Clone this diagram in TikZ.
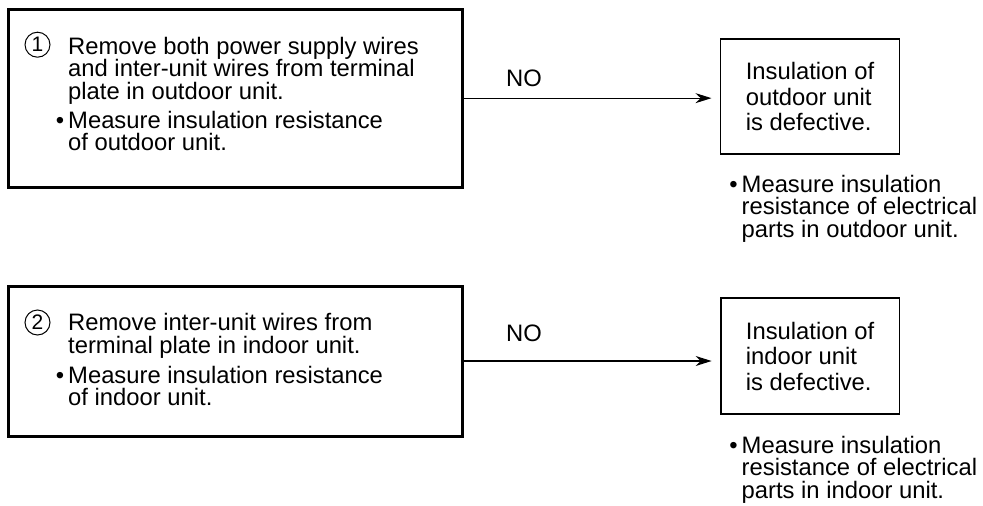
\documentclass[tikz,border=0pt]{standalone}
\usepackage{fontspec}
\setmainfont{Liberation Sans}
\usetikzlibrary{arrows.meta}
\newcommand\itemdot{\llap{\textbullet\hspace{4pt}}}
\begin{document}
\begin{tikzpicture}[x=1pt, y=-1pt,
  stepbox/.style={draw, line width=3pt, minimum width=453.3pt},
  res/.style={draw, line width=1.4pt, align=left, minimum width=178.6pt, minimum height=115pt, font={\fontsize{23.8}{25.5}\selectfont}},
  txt/.style={align=left, inner sep=0pt, anchor=north west, font={\fontsize{23.8}{22.4}\selectfont}},
  num/.style={circle, draw, line width=1pt, minimum size=25pt, inner sep=0pt, font={\fontsize{21}{21}\selectfont}},
  arr/.style={-{Stealth[length=16pt, width=10pt]}, line width=1.2pt, shorten >=8.5pt},
  lab/.style={inner sep=0pt, font={\fontsize{23.8}{23.8}\selectfont}}]
\useasboundingbox (0,0) rectangle (983,506);
\node[stepbox, minimum height=177.7pt] (step1) at (235.35,98.15) {};
\node[txt] (txt1) at (68,37.1) {Remove both power supply wires\\and inter-unit wires from terminal\\plate in outdoor unit.\\[6.8pt]\itemdot Measure insulation resistance\\of outdoor unit.};
\node[num] (num1) at (37.5,44.7) {1};
\node[res] (res1) at (810,96.5) {Insulation of\\outdoor unit\\is defective.};
\node[txt] (note1) at (741.5,175.1) {\itemdot Measure insulation\\resistance of electrical\\parts in outdoor unit.};
\draw[arr] (step1.east) -- node[lab, pos=0.236, above=10.6pt] (no1) {NO} (step1.east -| res1.west);

\node[stepbox, minimum height=150pt] (step2) at (235.35,361) {};
\node[txt] (txt2) at (68,313.3) {Remove inter-unit wires from\\terminal plate in indoor unit.\\[7.6pt]\itemdot Measure insulation resistance\\of indoor unit.};
\node[num] (num2) at (37.5,322.5) {2};
\node[res, minimum height=116pt] (res2) at (810.1,356) {Insulation of\\indoor unit\\is defective.};
\node[txt] (note2) at (741.5,436.1) {\itemdot Measure insulation\\resistance of electrical\\parts in indoor unit.};
\draw[arr] (step2.east) -- node[lab, pos=0.236, above=19pt] (no2) {NO} (step2.east -| res2.west);
\end{tikzpicture}
\end{document}
